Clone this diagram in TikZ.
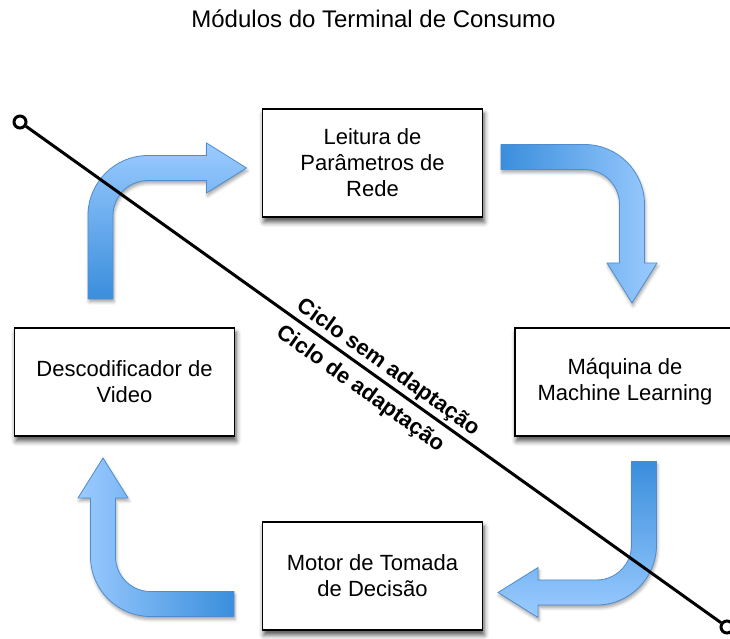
\documentclass[tikz,border=0pt]{standalone}
\usepackage{fontspec}
\setmainfont{Liberation Sans}
\definecolor{arrowdark}{RGB}{58,142,220}
\definecolor{arrowlight}{RGB}{155,203,255}
\definecolor{arrowedge}{RGB}{80,140,205}
\usetikzlibrary{positioning,shadows.blur}

\tikzset{
  module/.style={draw=black, line width=1.2pt, fill=white,
    minimum width=220pt, minimum height=108pt, inner sep=0pt, align=center,
    font=\fontsize{22}{26}\selectfont,
    blur shadow={shadow xshift=1.5pt, shadow yshift=-5pt, shadow blur radius=5pt, shadow opacity=70}},
  endpoint/.style={circle, draw=black, fill=white, line width=3pt, minimum size=12pt, inner sep=0pt},
  cyclelabel/.style={font=\fontsize{22}{26}\selectfont\bfseries, sloped, inner sep=2pt},
  bentarrow/.pic={
    \path[pic actions, draw=arrowedge, line width=0.8pt,
      blur shadow={shadow xshift=1pt, shadow yshift=-3pt, shadow blur radius=3pt, shadow opacity=35}]
      (-12.5,-131) -- (12.5,-131) -- (12.5,-47.5)
      arc[start angle=180, end angle=90, radius=35pt] -- (106,-12.5) -- (106,-25)
      -- (146,0) -- (106,25) -- (106,12.5) -- (47.5,12.5)
      arc[start angle=90, end angle=180, radius=60pt] -- cycle;
  }
}

\begin{document}
\begin{tikzpicture}[x=1pt, y=1pt]
  \useasboundingbox (0,0) rectangle (730,639);

  \node[font=\fontsize{24}{28}\selectfont, anchor=base] (title) at (373.5,611) {Módulos do Terminal de Consumo};

  % the four modules
  \node[module] (leitura) at (372.5,476) {Leitura de\\Parâmetros de\\Rede};
  \node[module] (maquina) at (625,257) {Máquina de\\Machine Learning};
  \node[module] (motor) at (372.5,63) {Motor de Tomada\\de Decisão};
  \node[module] (video) at (124.5,257) {Descodificador de\\Video};

  % bent arrows, going round clockwise
  \pic[bottom color=arrowdark, top color=arrowlight] at (100.5,471) {bentarrow};
  \pic[rotate=-90, left color=arrowdark, right color=arrowlight] at (632,482) {bentarrow};
  \pic[rotate=180, top color=arrowdark, bottom color=arrowlight] at (644,46.5) {bentarrow};
  \pic[rotate=90, right color=arrowdark, left color=arrowlight] at (103,35) {bentarrow};

  % dividing line between the two cycles
  \node[endpoint] (start) at (20,517) {};
  \node[endpoint] (end) at (727,12) {};
  \draw[line width=3pt] (start) -- (end)
    node[cyclelabel, pos=0.509, above] {Ciclo sem adaptação}
    node[cyclelabel, pos=0.497, below=6pt] {Ciclo de adaptação};
\end{tikzpicture}
\end{document}
